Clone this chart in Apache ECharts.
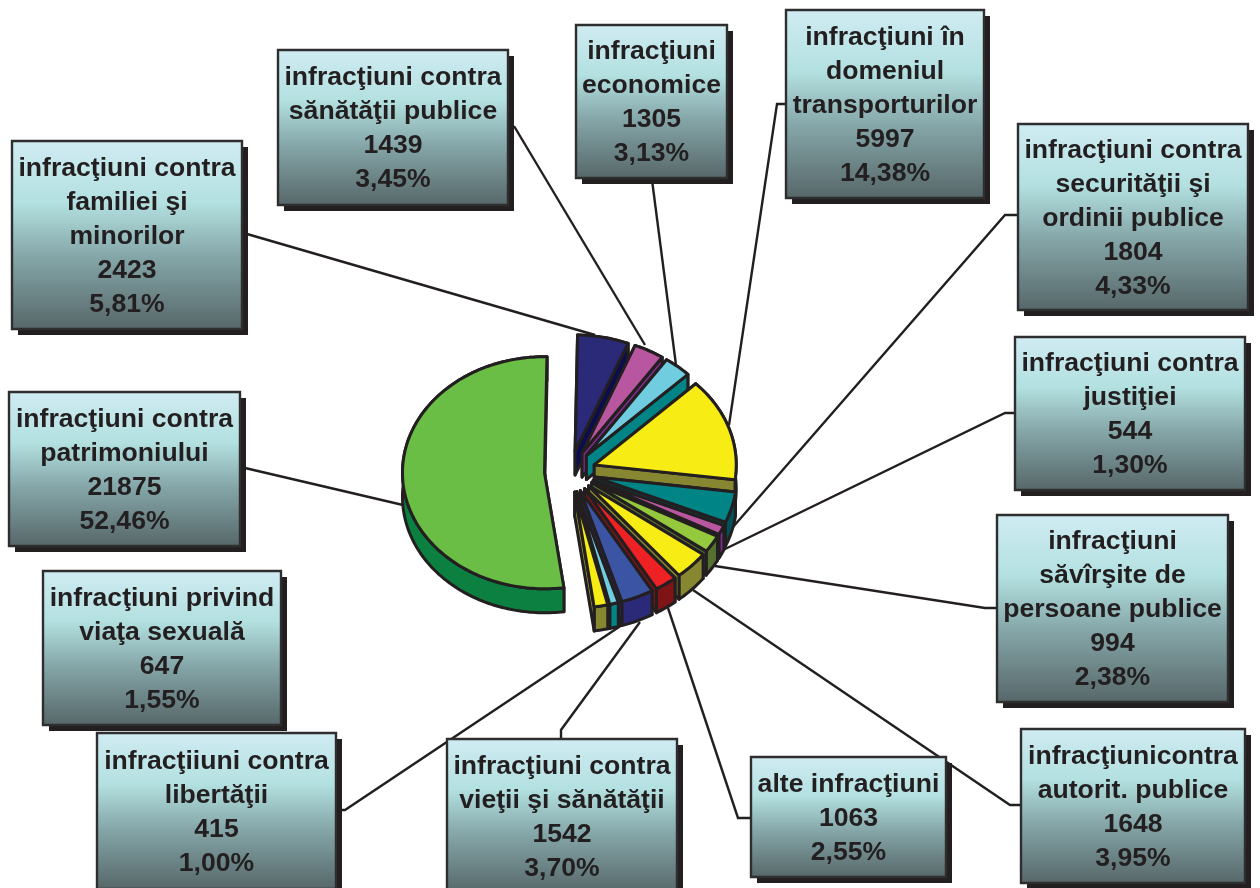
<!DOCTYPE html>
<html><head><meta charset="utf-8">
<style>html,body{margin:0;padding:0;background:#fff}#c{width:1260px;height:888px}</style>
<script src="https://cdn.jsdelivr.net/npm/echarts@6/dist/echarts.min.js"></script>
</head><body><div id="c"></div>
<script>
// ---- data (clockwise from 12 o'clock) ----
const names = [
  'infracţiuni contra\nfamiliei şi\nminorilor',
  'infracţiuni contra\nsănătăţii publice',
  'infracţiuni\neconomice',
  'infracţiuni în\ndomeniul\ntransporturilor',
  'infracţiuni contra\nsecurităţii şi\nordinii publice',
  'infracţiuni contra\njustiţiei',
  'infracţiuni\nsăvîrşite de\npersoane publice',
  'infracţiunicontra\nautorit. publice',
  'alte infracţiuni',
  'infracţiuni contra\nvieţii şi sănătăţii',
  'infracţiiuni contra\nlibertăţii',
  'infracţiuni privind\nviaţa sexuală',
  'infracţiuni contra\npatrimoniului'
];
const values = [2423, 1439, 1305, 5997, 1804, 544, 994, 1648, 1063, 1542, 415, 647, 21875];
const percents = ['5,81%','3,45%','3,13%','14,38%','4,33%','1,30%','2,38%','3,95%','2,55%','3,70%','1,00%','1,55%','52,46%'];

// ---- styles ----
const topColors  = ['#2A2A78','#B8569F','#6FCDDF','#F7EC13','#008486','#B8569F','#95C93D','#F7EC13','#EE2225','#3B54A4','#6FCDDF','#F7EC13','#6ABD45'];
const wallColors = ['#0C0C50','#7B2C8E','#008486','#878732','#005257','#7B2C8E','#56702F','#878732','#7E1416','#2A2A78','#008486','#878732','#0B8040'];
const INK = '#231F20';

// ---- layout ----
const pie = {cx:570, cy:471.5, rx:142, ry:116, depth:24, explode:0.18, startDeg:1};
const boxes = [
  [12,141,242,329],[278,50,508,205],[576,25,727,178],[786,10,984,198],[1018,124,1248,310],
  [1015,337,1245,490],[997,515,1228,702],[1021,729,1245,883],[751,757,946,877],[447,739,677,893],
  [97,733,336,889],[43,571,281,725],[9,392,240,546]
];
const leaders = [
  [[247,234],[595,335]],
  [[514,126],[645,345]],
  [[652,180],[676,365]],
  [[786,104],[777,104],[729,425]],
  [[1018,215],[1005,215],[733,527]],
  [[1015,413],[1005,413],[723,550]],
  [[997,608],[985,608],[715,566]],
  [[1021,805],[1010,805],[693,590]],
  [[751,818],[738,818],[668,608]],
  [[561,739],[561,730],[640,622]],
  [[336,810],[345,810],[622,625]],
  [],
  [[245,468],[403,505]]
];

const total = values.reduce((a,b)=>a+b,0);
const starts = [];
values.reduce((acc,v,i)=>{starts[i]=acc;return acc+v;},0);
const off = pie.startDeg*Math.PI/180;

function pt(o,theta,r){return [o[0]+pie.rx*r*Math.sin(theta), o[1]-pie.ry*r*Math.cos(theta)];}
function down(p){return [p[0],p[1]+pie.depth];}

function renderSlice(params, api){
  const i = params.dataIndex;
  const a0 = off+starts[i]/total*Math.PI*2, a1 = off+(starts[i]+api.value(0))/total*Math.PI*2;
  const mid = (a0+a1)/2;
  const apex = pt([pie.cx,pie.cy],mid,pie.explode);
  const arc = [];
  const n = Math.max(4,Math.ceil((a1-a0)/0.02));
  for(let k=0;k<=n;k++) arc.push(pt(apex,a0+(a1-a0)*k/n,1));
  const wall = {fill:wallColors[i],stroke:INK,lineWidth:3,lineJoin:'round'};
  const poly = (pts,style)=>({type:'polygon',shape:{points:pts},style:style});
  const first = arc[0], last = arc[arc.length-1];
  return {type:'group',children:[
    poly([apex,first,down(first),down(apex)],wall),
    poly(arc.concat(arc.slice().reverse().map(down)),wall),
    poly([apex,last,down(last),down(apex)],wall),
    poly([apex].concat(arc),{fill:topColors[i],stroke:INK,lineWidth:3,lineJoin:'round'})
  ]};
}

function renderLeader(params){
  const l = leaders[params.dataIndex];
  if(!l.length) return {type:'group',children:[]};
  return {type:'polyline',shape:{points:l},style:{fill:null,stroke:INK,lineWidth:2.4}};
}

function renderBox(params, api){
  const i = params.dataIndex, b = boxes[i];
  const w = b[2]-b[0], h = b[3]-b[1];
  return {type:'group',children:[
    {type:'rect',shape:{x:b[0]+6,y:b[1]+6,width:w,height:h},style:{fill:INK}},
    {type:'rect',shape:{x:b[0],y:b[1],width:w,height:h},style:{
      fill:new echarts.graphic.LinearGradient(0,0,0,1,[
        {offset:0,color:'#D0ECF3'},{offset:0.33,color:'#B3E0E0'},{offset:0.62,color:'#84A5A7'},{offset:1,color:'#566668'}
      ]),stroke:'#2E2E2E',lineWidth:2.4}},
    {type:'text',style:{
      text:names[i]+'\n'+api.value(0)+'\n'+percents[i],
      x:(b[0]+b[2])/2,y:(b[1]+b[3])/2+1.5,align:'center',verticalAlign:'middle',
      fontFamily:'Liberation Sans',fontWeight:'bold',fontSize:26.6,lineHeight:34,fill:INK}}
  ]};
}

const chart = echarts.init(document.getElementById('c'),null,{renderer:'canvas'});
chart.setOption({
  animation:false,
  backgroundColor:'#fff',
  series:[
    {type:'custom',coordinateSystem:'none',z:1,silent:true,data:values,renderItem:renderLeader},
    {type:'custom',coordinateSystem:'none',z:2,silent:true,data:values,renderItem:renderSlice},
    {type:'custom',coordinateSystem:'none',z:3,silent:true,data:values,renderItem:renderBox}
  ]
});
</script></body></html>
